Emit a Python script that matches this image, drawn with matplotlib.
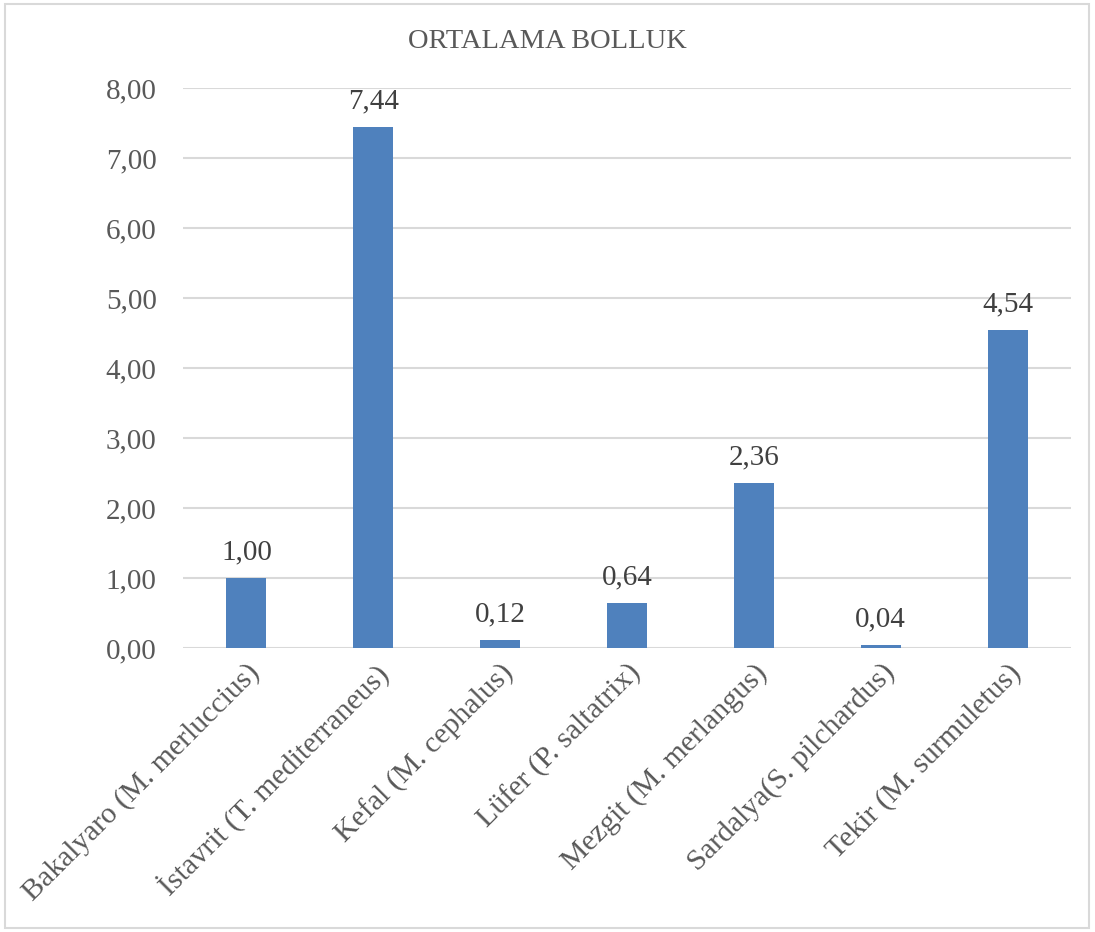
import matplotlib.pyplot as plt
from matplotlib.patches import Rectangle
import numpy as np

# Ortalama bolluk verisi
species = ['Bakalyaro (M. merluccius)', 'İstavrit (T. mediterraneus)', 'Kefal (M. cephalus)',
           'Lüfer (P. saltatrix)', 'Mezgit (M. merlangus)', 'Sardalya(S. pilchardus)',
           'Tekir (M. surmuletus)']
abundance = [1.00, 7.44, 0.12, 0.64, 2.36, 0.04, 4.54]
y_ticks = [0, 1, 2, 3, 4, 5, 6, 7, 8]

plt.rcParams['font.family'] = ['Liberation Serif', 'DejaVu Serif']

fig = plt.figure(figsize=(10.95, 9.32), dpi=100)
ax = fig.add_axes([183 / 1095, 1 - 648 / 932, (1071 - 183) / 1095, (648 - 88) / 932])

x = np.arange(len(species))
ax.bar(x, abundance, width=0.315, color='#4F81BD', zorder=3)

for xi, v in zip(x, abundance):
    ax.annotate(f'{v:.2f}'.replace('.', ','), (xi, v), xytext=(0, 9), textcoords='offset points',
                ha='center', va='bottom', fontsize=21, color='#404040')

ax.set_xlim(-0.5, len(species) - 0.5)
ax.set_ylim(0, 8)
ax.set_yticks(y_ticks)
ax.set_yticklabels([f'{t:.2f}'.replace('.', ',') for t in y_ticks], fontsize=21, color='#595959')
ax.grid(axis='y', color='#D9D9D9', linewidth=1.5, zorder=0)
ax.tick_params(axis='y', length=0, pad=19)
for s in ax.spines.values():
    s.set_visible(False)

ax.set_xticks(x)
ax.set_xticklabels(species, rotation=45, ha='right', rotation_mode='anchor',
                   fontsize=21.5, color='#595959')
ax.tick_params(axis='x', length=0, pad=8)

fig.text(0.5, 1 - 42 / 932, 'ORTALAMA BOLLUK', ha='center', va='center',
         fontsize=20.5, color='#595959')

fig.patches.append(Rectangle((5 / 1095, 4 / 932), 1084 / 1095, 924 / 932,
                             transform=fig.transFigure, fill=False,
                             edgecolor='#D9D9D9', linewidth=1.5))

fig.savefig('out.png', dpi=100)
